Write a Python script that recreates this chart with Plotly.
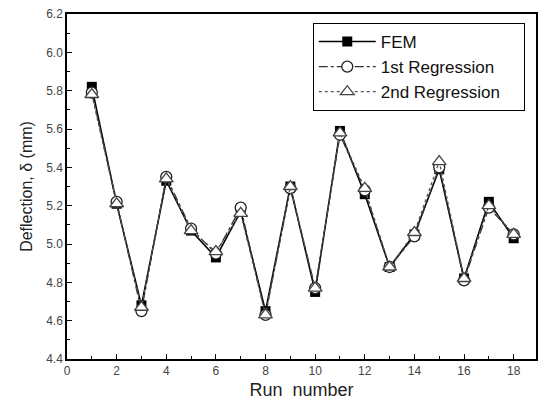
import plotly.graph_objects as go

runs = list(range(1, 19))
fem = [5.82, 5.21, 4.68, 5.33, 5.07, 4.93, 5.17, 4.65, 5.30, 4.75, 5.59, 5.26, 4.88, 5.05, 5.39, 4.82, 5.22, 5.03]
reg1 = [5.79, 5.22, 4.65, 5.35, 5.08, 4.95, 5.19, 4.63, 5.29, 4.77, 5.57, 5.28, 4.88, 5.04, 5.40, 4.81, 5.19, 5.05]
reg2 = [5.78, 5.21, 4.67, 5.34, 5.07, 4.96, 5.16, 4.63, 5.30, 4.77, 5.58, 5.29, 4.88, 5.06, 5.43, 4.82, 5.20, 5.05]

fig = go.Figure()
fig.add_trace(go.Scatter(x=runs, y=fem, name="FEM", mode="lines+markers",
                         line=dict(color="black", width=1.6),
                         marker=dict(symbol="square", size=10, color="black")))
fig.add_trace(go.Scatter(x=runs, y=reg1, name="1st Regression", mode="lines+markers",
                         line=dict(color="#333", width=1.3, dash="dashdot"),
                         marker=dict(symbol="circle", size=11, color="white",
                                     line=dict(color="#222", width=1.3))))
fig.add_trace(go.Scatter(x=runs, y=reg2, name="2nd Regression\u00a0\u00a0\u00a0\u00a0", mode="lines+markers",
                         line=dict(color="#555", width=1.3, dash="dot"),
                         marker=dict(symbol="triangle-up", size=12, color="white",
                                     line=dict(color="#444", width=1.3))))

axis_common = dict(showline=True, linecolor="black", linewidth=1.5, mirror=True,
                   ticks="inside", ticklen=5, tickwidth=1.2, tickcolor="black",
                   showgrid=False, zeroline=False, automargin=False,
                   tickfont=dict(family="Liberation Sans, Arial", size=12, color="#444"))

fig.update_layout(
    width=538, height=406,
    margin=dict(l=67, r=2, t=14, b=47),
    paper_bgcolor="white", plot_bgcolor="white",
    font=dict(family="Liberation Sans, Arial", color="#222"),
    xaxis=dict(range=[0, 18.9], dtick=2, tick0=0,
               minor=dict(dtick=1, ticks="inside", ticklen=3, tickcolor="black"),
               title=dict(text="Run  number", font=dict(size=18), standoff=6),
               **axis_common),
    yaxis=dict(range=[4.4, 6.2], dtick=0.2, tick0=4.4, tickformat=".1f",
               minor=dict(dtick=0.1, ticks="inside", ticklen=3, tickcolor="black"),
               title=dict(text="Deflection, δ (mm)", font=dict(size=16), standoff=10),
               **axis_common),
    legend=dict(x=0.524, y=0.974, xanchor="left", yanchor="top",
                bordercolor="black", borderwidth=1, bgcolor="white",
                itemwidth=57,
                font=dict(size=17, color="#111"), tracegroupgap=0),
    showlegend=True,
)

fig.write_html("out.html", config={"displayModeBar": False},
               post_script="document.body.style.margin='0';document.body.style.overflow='hidden';")
